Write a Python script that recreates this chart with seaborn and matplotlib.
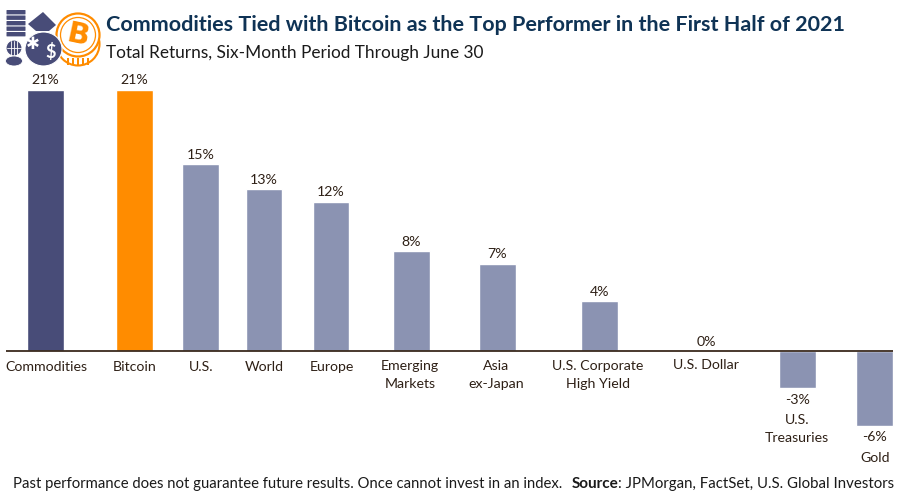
import matplotlib
matplotlib.use('Agg')
import matplotlib.pyplot as plt
import pandas as pd
import seaborn as sns
from matplotlib.patches import Circle, Ellipse, FancyBboxPatch, Polygon, Rectangle

# data
names = ['Commodities', 'Bitcoin', 'U.S.', 'World', 'Europe', 'Emerging\nMarkets', 'Asia\nex-Japan',
         'U.S. Corporate\nHigh Yield', 'U.S. Dollar', 'U.S.\nTreasuries', 'Gold']
returns = [21, 21, 15, 13, 12, 8, 7, 4, 0, -3, -6]
groups = ['Commodities', 'Bitcoin', 'Other', 'Other', 'Other', 'Other', 'Other', 'Other', 'Other', 'Other', 'Other']

# layout: the bars are not evenly spaced in the original (pixel columns)
bar_slots = [45.5, 134.5, 200.5, 264, 331, 411.5, 497.5, 599.5, 706, 797.5, 874.5]
label_slots = [46, 135, 201, 264, 332, 410, 496, 598, 706, 797, 875]
label_rows = [367, 367, 367, 367, 367, 375, 375, 375, 365, 429, 458]

NAVY = '#484c78'
ORANGE = '#ff8c00'
BLUE = '#8b93b2'
INK = '#2e2016'

sns.set_theme(style='white')
plt.rcParams['font.family'] = ['Lato', 'DejaVu Sans']

df = pd.DataFrame({'slot': bar_slots, 'ret': returns, 'group': groups})

fig = plt.figure(figsize=(9, 4.95), dpi=100)
ax = fig.add_axes([0, 0, 1, 1])
sns.barplot(data=df, x='slot', y='ret', hue='group', native_scale=True, dodge=False, legend=False,
            palette={'Commodities': NAVY, 'Bitcoin': ORANGE, 'Other': BLUE},
            width=36.5 / 63.5, saturation=1, ax=ax)
# zero at pixel 351, about 12.45 px per point
ax.set_xlim(0, 900)
ax.set_ylim(-(495 - 351) / 12.45, 351 / 12.45)
ax.axis('off')
ax.hlines(0, 6, 893, color='#3a2a1e', lw=1.3, zorder=5)

# value labels, a bit further from the bar when it hangs below the axis
for slot, ret in zip(bar_slots, returns):
    ax.annotate(f'{ret}%', (slot, ret), xytext=(0, 2.5 if ret >= 0 else -4), textcoords='offset points',
                ha='center', va='bottom' if ret >= 0 else 'top', fontsize=10.2, color=INK)

# overlay in pixel coordinates for text and icon
ov = fig.add_axes([0, 0, 1, 1])
ov.set_xlim(0, 900)
ov.set_ylim(495, 0)
ov.axis('off')
ov.patch.set_alpha(0)

for x, y, s in zip(label_slots, label_rows, names):
    ov.text(x, y, s, ha='center', va='center', fontsize=10.2, color=INK, linespacing=1.6)

ov.text(106, 25, 'Commodities Tied with Bitcoin as the Top Performer in the First Half of 2021',
        fontsize=15.45, fontweight='bold', color='#0f3355', va='center')
ov.text(106, 53, 'Total Returns, Six-Month Period Through June 30', fontsize=12.45, color='#1a1a1a', va='center')

ov.text(13, 484, 'Past performance does not guarantee future results. Once cannot invest in an index.',
        fontsize=10.7, color='#1a1a1a', va='center')
ov.text(572, 484, 'Source', fontsize=11, fontweight='bold', color='#1a1a1a', va='center')
ov.text(618, 484, ': JPMorgan, FactSet, U.S. Global Investors', fontsize=10.8, color='#1a1a1a', va='center')

# icon: coins, sack, bitcoin coin
for y in [10.5, 16, 21.5, 27, 32.5]:
    ov.add_patch(FancyBboxPatch((7, y), 18, 3.4, boxstyle='round,pad=0.5', fc=NAVY, ec='none'))
ov.add_patch(Circle((14, 48), 8, fc=NAVY, ec='white', lw=0.8, zorder=3))
for dx in [-3, 0, 3]:
    ov.plot([14 + dx, 14 + dx], [41, 55], color='white', lw=0.6, zorder=4)
ov.plot([7, 21], [48, 48], color='white', lw=0.6, zorder=4)
ov.add_patch(Ellipse((14, 61), 17, 10, fc=NAVY, ec='white', lw=0.6, zorder=3))
ov.add_patch(Circle((78, 44), 21.5, fc='white', ec=ORANGE, lw=1.5, zorder=2))
for dx in [-10, -5, 0, 5, 10]:
    ov.add_patch(Rectangle((78 + dx - 0.6, 58), 1.2, 7, fc=ORANGE, ec='none', zorder=2))
ov.add_patch(Circle((78, 35), 21.5, fc='white', ec=ORANGE, lw=1.6, zorder=2))
ov.add_patch(Circle((78, 35), 17.5, fc='white', ec=ORANGE, lw=0.9, zorder=2))
ov.text(78, 35, 'B', fontsize=21, fontweight='bold', color=ORANGE, rotation=-12, ha='center', va='center',
        family='DejaVu Sans', zorder=3)
ov.add_patch(Polygon([[28, 24], [43, 12], [56, 25], [49, 31], [36, 31]], fc=NAVY, ec='none', zorder=5))
ov.add_patch(Ellipse((43.5, 49), 37, 34, fc=NAVY, ec='white', lw=0.8, zorder=5))
ov.text(33, 44, '✱', fontsize=12, color='white', ha='center', va='center', family='DejaVu Sans', zorder=6)
ov.text(51, 52, '$', fontsize=13, color='white', ha='center', va='center', fontweight='bold', zorder=6)

fig.savefig('out.png', dpi=100)
